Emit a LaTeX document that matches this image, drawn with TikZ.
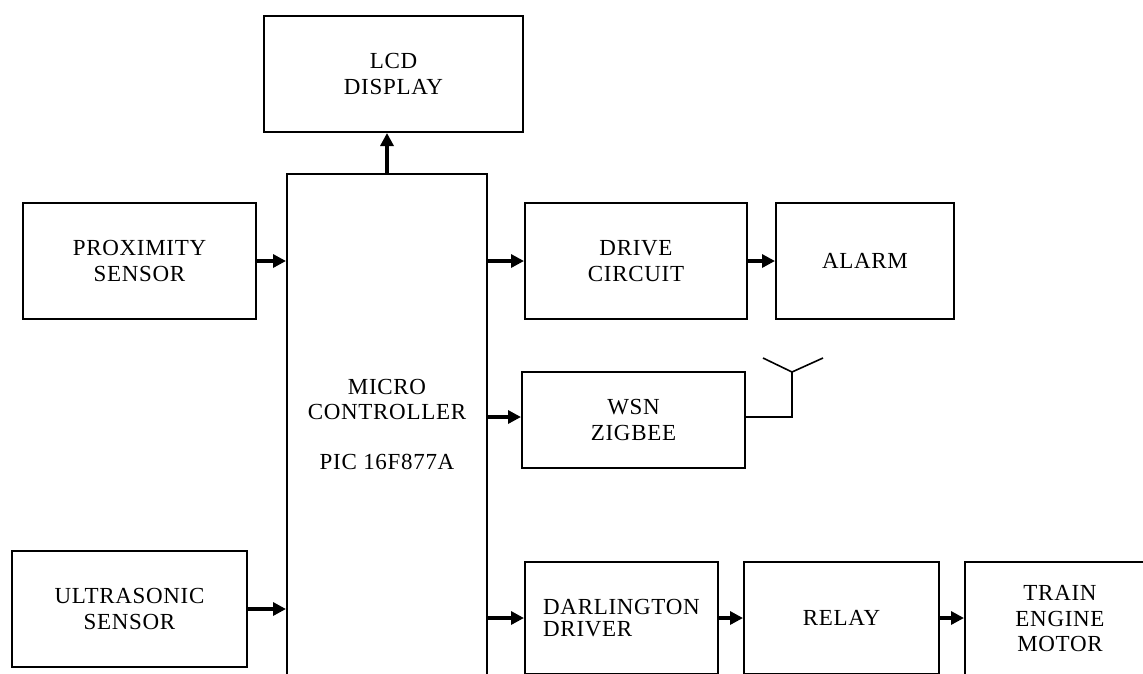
\documentclass[tikz,border=0pt]{standalone}
\usepackage{fontspec}
\setmainfont{Liberation Serif}[LetterSpace=3]
\usetikzlibrary{arrows.meta}
\begin{document}
\begin{tikzpicture}[x=1pt,y=-1pt,
  blk/.style={draw, line width=2pt, inner sep=0pt, font=\fontsize{23}{26}\selectfont, align=center},
  lbl/.style={font=\fontsize{23}{22}\selectfont, inner sep=0pt},
  arr/.style={line width=3.2pt, -{Triangle[length=13pt,width=13pt]}},
  ant/.style={line width=1.6pt}]
\useasboundingbox (0,0) rectangle (1143,673);
\clip (0,0) rectangle (1143,673);
\fill[white] (0,0) rectangle (1143,673);

\node[blk, minimum width=259pt, minimum height=116pt] (lcd) at (393.5,74) {LCD\\DISPLAY};
\node[blk, minimum width=200pt, minimum height=501pt, font=\fontsize{23}{25}\selectfont] (mc) at (387,424.5) {MICRO\\CONTROLLER\\[25pt]PIC 16F877A};
\node[blk, minimum width=233pt, minimum height=116pt] (prox) at (139.5,261) {PROXIMITY\\SENSOR};
\node[blk, minimum width=235pt, minimum height=116pt] (ultra) at (129.5,609) {ULTRASONIC\\SENSOR};
\node[blk, minimum width=222pt, minimum height=116pt] (drive) at (636,261) {DRIVE\\CIRCUIT};
\node[blk, minimum width=178pt, minimum height=116pt] (alarm) at (865,261) {ALARM};
\node[blk, minimum width=223pt, minimum height=96pt] (wsn) at (633.5,420) {WSN\\ZIGBEE};
\node[blk, minimum width=193pt, minimum height=112pt] (darl) at (621.5,618) {};
\node[lbl, align=left, anchor=west] (darltxt) at (543,618) {DARLINGTON\\DRIVER};
\node[blk, minimum width=195pt, minimum height=112pt] (relay) at (841.5,618) {RELAY};
\node[blk, minimum width=190pt, minimum height=114pt, font=\fontsize{23}{25.5}\selectfont] (train) at (1060,619) {TRAIN\\ENGINE\\MOTOR};

\draw[arr] (mc.north) -- (mc.north |- lcd.south);
\draw[arr] (prox.east) -- (prox.east -| mc.west);
\draw[arr] (ultra.east) -- (ultra.east -| mc.west);
\draw[arr] (drive.west -| mc.east) -- (drive.west);
\draw[arr] (drive.east) -- (alarm.west);
\draw[arr] ([yshift=3pt]wsn.west -| mc.east) -- ([yshift=3pt]wsn.west);
\draw[arr] (darl.west -| mc.east) -- (darl.west);
\draw[arr] (darl.east) -- (relay.west);
\draw[arr] (relay.east) -- (relay.east -| train.west);

\coordinate (antfeed) at ([yshift=3pt]wsn.east);
\coordinate (ant) at (792,372);
\coordinate (antL) at (763,358);
\coordinate (antR) at (823,358);
\draw[ant] (antfeed) -| (ant);
\draw[ant] (antL) -- (ant) -- (antR);
\end{tikzpicture}
\end{document}
